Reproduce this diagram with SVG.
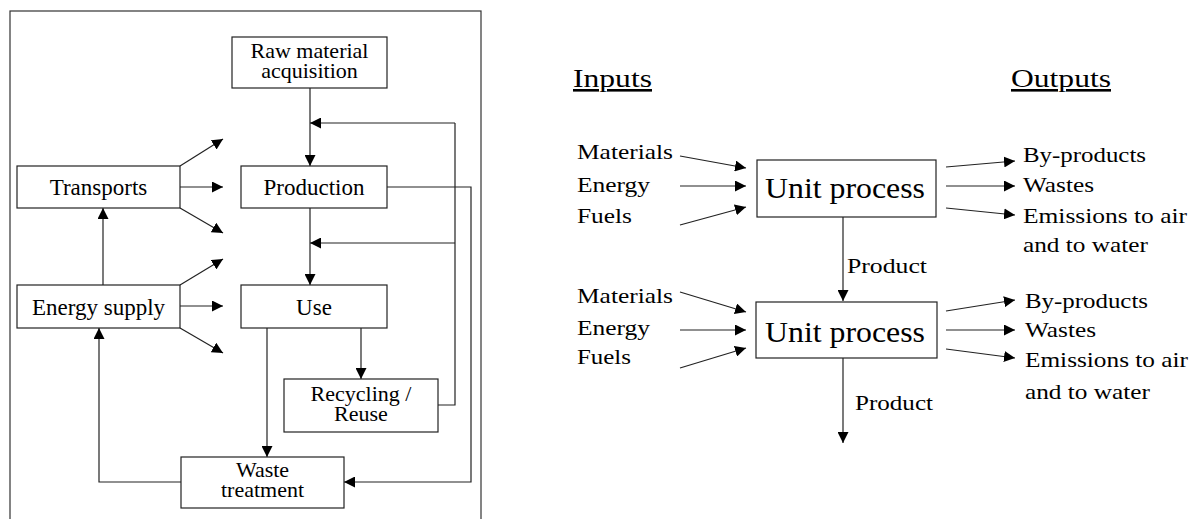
<svg xmlns="http://www.w3.org/2000/svg" width="1193" height="519" viewBox="0 0 1193 519">
<defs>
<marker id="ah" markerUnits="userSpaceOnUse" markerWidth="11" markerHeight="11" refX="11" refY="5.5" orient="auto">
<path d="M0,0 L11,5.5 L0,11 z" fill="#000"/>
</marker>
<style>
.box{fill:#fff;stroke:#222;stroke-width:1.2}
.ln{fill:none;stroke:#222;stroke-width:1.2}
.ar{fill:none;stroke:#222;stroke-width:1.2;marker-end:url(#ah)}
.t{font-size:23px;text-anchor:middle}
.t2{font-size:22px;text-anchor:middle}
.l{font-size:22px}
.u{font-size:30px}
.h{font-size:26px;text-decoration:underline}
</style>
</defs>
<rect x="10" y="11" width="471" height="520" fill="none" stroke="#333" stroke-width="1.2"/>
<g id="connectors">
<path class="ar" d="M310,88 V166"/>
<path class="ar" d="M455,123 H310"/>
<path class="ar" d="M455,243 H310"/>
<path class="ln" d="M438,405 H455 V123"/>
<path class="ar" d="M387,187 H471 V482 H344"/>
<path class="ar" d="M310,208 V285"/>
<path class="ar" d="M180,166 L223,139"/>
<path class="ar" d="M180,187 H223"/>
<path class="ar" d="M180,208 L223,233"/>
<path class="ar" d="M103,285 V208"/>
<path class="ar" d="M180,285 L223,259"/>
<path class="ar" d="M180,306 H223"/>
<path class="ar" d="M180,328 L223,353"/>
<path class="ar" d="M267,328 V457"/>
<path class="ar" d="M361,328 V379"/>
<path class="ar" d="M181,482 H99 V328"/>
<path class="ar" d="M680,156 L746,168"/>
<path class="ar" d="M680,186 H746"/>
<path class="ar" d="M680,225 L746,207"/>
<path class="ar" d="M946,167 L1015,161"/>
<path class="ar" d="M946,186 H1015"/>
<path class="ar" d="M946,208 L1015,215"/>
<path class="ar" d="M843,217 V301"/>
<path class="ar" d="M680,292 L746,312"/>
<path class="ar" d="M680,330 H746"/>
<path class="ar" d="M680,368 L746,348"/>
<path class="ar" d="M946,311 L1015,300"/>
<path class="ar" d="M946,330 H1015"/>
<path class="ar" d="M946,349 L1015,358"/>
<path class="ar" d="M843,358 V443"/>
</g>
<g font-family="'Liberation Serif', 'DejaVu Serif', 'Times New Roman', serif" fill="#000">
<g id="raw-material">
<rect class="box" x="232" y="37" width="155" height="51"/>
<text class="t2" x="309.5" y="58">Raw material</text>
<text class="t2" x="309.5" y="78">acquisition</text>
</g>
<g id="transports">
<rect class="box" x="17" y="166" width="163" height="42"/>
<text class="t" x="98.5" y="195">Transports</text>
</g>
<g id="production">
<rect class="box" x="241" y="166" width="146" height="42"/>
<text class="t" x="314" y="195">Production</text>
</g>
<g id="energy-supply">
<rect class="box" x="17" y="285" width="163" height="43"/>
<text class="t" x="98.5" y="315">Energy supply</text>
</g>
<g id="use">
<rect class="box" x="241" y="285" width="146" height="43"/>
<text class="t" x="314" y="315">Use</text>
</g>
<g id="recycling">
<rect class="box" x="284" y="379" width="154" height="53"/>
<text class="t2" x="361" y="401">Recycling /</text>
<text class="t2" x="361" y="421">Reuse</text>
</g>
<g id="waste-treatment">
<rect class="box" x="181" y="457" width="163" height="51"/>
<text class="t2" x="262.5" y="477">Waste</text>
<text class="t2" x="262.5" y="497">treatment</text>
</g>
<g id="headers">
<text class="h" x="573" y="87" textLength="79" lengthAdjust="spacingAndGlyphs">Inputs</text>
<text class="h" x="1011" y="87" textLength="100" lengthAdjust="spacingAndGlyphs">Outputs</text>
</g>
<g id="unit-process-1">
<rect class="box" x="757" y="160" width="179" height="57"/>
<text class="u" x="765" y="198" textLength="160" lengthAdjust="spacingAndGlyphs">Unit process</text>
</g>
<g id="inputs-1">
<text class="l" x="577" y="159" textLength="96" lengthAdjust="spacingAndGlyphs">Materials</text>
<text class="l" x="577" y="192" textLength="73" lengthAdjust="spacingAndGlyphs">Energy</text>
<text class="l" x="577" y="223" textLength="55" lengthAdjust="spacingAndGlyphs">Fuels</text>
</g>
<g id="outputs-1">
<text class="l" x="1023" y="162" textLength="123" lengthAdjust="spacingAndGlyphs">By-products</text>
<text class="l" x="1023" y="192" textLength="71" lengthAdjust="spacingAndGlyphs">Wastes</text>
<text class="l" x="1023" y="223" textLength="164" lengthAdjust="spacingAndGlyphs">Emissions to air</text>
<text class="l" x="1023" y="252" textLength="125" lengthAdjust="spacingAndGlyphs">and to water</text>
</g>
<text class="l" x="847" y="273" textLength="80" lengthAdjust="spacingAndGlyphs">Product</text>
<g id="unit-process-2">
<rect class="box" x="756" y="302" width="181" height="56"/>
<text class="u" x="765" y="342" textLength="160" lengthAdjust="spacingAndGlyphs">Unit process</text>
</g>
<g id="inputs-2">
<text class="l" x="577" y="303" textLength="96" lengthAdjust="spacingAndGlyphs">Materials</text>
<text class="l" x="577" y="335" textLength="73" lengthAdjust="spacingAndGlyphs">Energy</text>
<text class="l" x="577" y="364" textLength="54" lengthAdjust="spacingAndGlyphs">Fuels</text>
</g>
<g id="outputs-2">
<text class="l" x="1025" y="308" textLength="123" lengthAdjust="spacingAndGlyphs">By-products</text>
<text class="l" x="1025" y="337" textLength="71" lengthAdjust="spacingAndGlyphs">Wastes</text>
<text class="l" x="1025" y="367" textLength="163" lengthAdjust="spacingAndGlyphs">Emissions to air</text>
<text class="l" x="1025" y="399" textLength="125" lengthAdjust="spacingAndGlyphs">and to water</text>
</g>
<text class="l" x="855" y="410" textLength="78" lengthAdjust="spacingAndGlyphs">Product</text>
</g>
</svg>
